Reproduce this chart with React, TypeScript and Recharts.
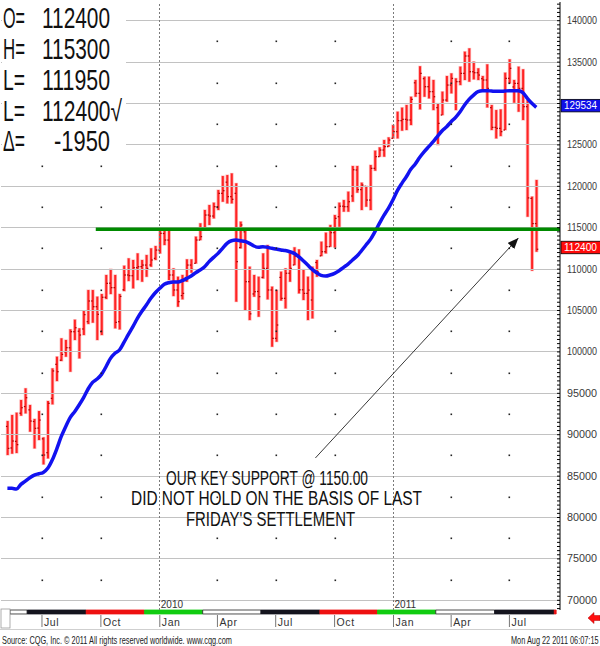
import React from 'react';
import {
  ComposedChart,
  Bar,
  Line,
  XAxis,
  YAxis,
  ReferenceLine,
  ReferenceDot,
  ReferenceArea,
} from 'recharts';

const DAY = 86400000;
const WEEK = 7 * DAY;
const firstWeek = Date.UTC(2009, 4, 8);
const xDomain = [Date.UTC(2009, 3, 28), Date.UTC(2011, 8, 18)];
const yDomain = [68830, 142260];

const highs = [
  91650, 92380, 92660, 94190, 95600, 93590, 91900, 92860, 89680, 94070,
  98010, 99420, 101640, 101440, 102720, 103890, 102850, 104940, 107470, 107470,
  106670, 106990, 109290, 110010, 109290, 106990, 110410, 111300, 111100, 111900,
  111100, 111700, 112510, 112790, 114720, 114920, 114720, 110090, 109080, 109290,
  111180, 111180, 113920, 115530, 117140, 117740, 118020, 119550, 121240, 121360,
  121560, 120360, 115730, 114920, 110290, 109290, 109080, 111900, 112910, 107880,
  107480, 109690, 110090, 111900, 112630, 112380, 109970, 109080, 110290, 111100,
  113310, 114400, 115330, 116530, 118020, 118340, 119350, 122450, 122450, 120440,
  120030, 122570, 124300, 124700, 125590, 125910, 127400, 129010, 129500, 129820,
  130820, 132840, 134500, 133240, 133240, 132840, 130020, 131430, 133320, 133640,
  133040, 134450, 136260, 136660, 135050, 134250, 133320, 134730, 129820, 129210,
  129290, 133720, 135330, 132840, 134450, 134130, 130420, 118750, 120760,
];
const lows = [
  87550, 87710, 87790, 92300, 92580, 90370, 88350, 89360, 86420, 87140,
  93670, 96480, 98900, 99420, 97610, 101440, 99220, 102040, 103370, 103530,
  101440, 102040, 106390, 106990, 102850, 102720, 107350, 108560, 107680, 108680,
  108480, 109080, 110290, 111100, 111900, 112910, 108680, 106750, 105460, 106350,
  108480, 109570, 110690, 113510, 114920, 115330, 116130, 117140, 118140, 117940,
  117940, 106070, 112510, 105060, 103850, 106670, 104250, 108880, 106350, 100630,
  101230, 106200, 105260, 108480, 110490, 107070, 106270, 103850, 104050, 109080,
  111580, 111900, 112710, 112630, 115120, 116940, 116940, 118140, 119230, 117140,
  117540, 117140, 121890, 123580, 123580, 124790, 125790, 125790, 126720, 126800,
  127400, 130820, 129300, 130820, 130620, 129210, 124990, 128610, 130220, 131230,
  129210, 132230, 132840, 132640, 132920, 132840, 131630, 129530, 126800, 125790,
  126070, 126800, 132440, 130100, 129010, 128010, 116330, 109810, 112100,
];
const opens = [
  91000, 88400, 89200, 92600, 93400, 93000, 91600, 90800, 89500, 87830,
  94390, 98500, 99000, 100000, 100500, 102440, 102500, 102770, 103650, 106150,
  105460, 102440, 106600, 108300, 107760, 103650, 107500, 109290, 109200, 110170,
  110300, 110490, 110500, 111300, 112300, 114300, 113510, 109290, 107480, 106800,
  108600, 110490, 110700, 113510, 115000, 116530, 116410, 117540, 119150, 120500,
  118750, 119150, 112600, 114500, 108480, 107000, 107300, 109000, 110090, 107480,
  101640, 109000, 106470, 109500, 110500, 111700, 107500, 107070, 106270, 110800,
  111600, 112100, 112710, 114400, 116330, 117600, 117540, 118830, 121970, 119600,
  120000, 118340, 122170, 123580, 124380, 124790, 125800, 126600, 127930, 128090,
  128010, 132500, 131230, 133000, 132030, 131430, 129500, 128610, 130420, 132230,
  130000, 132640, 133640, 135740, 133840, 133720, 133000, 132840, 129500, 127120,
  127000, 126800, 133040, 132000, 132430, 131830, 129620, 118540, 115500,
];
const closes = [
  88350, 89240, 88800, 93260, 94470, 91650, 90770, 91770, 87550, 93790,
  97700, 97610, 99700, 100510, 102440, 102920, 102040, 104500, 106150, 105460,
  104540, 106600, 108280, 107760, 103570, 106700, 109290, 109210, 110170, 110290,
  110490, 110090, 111100, 112300, 114320, 113510, 109290, 107480, 106070, 107070,
  110490, 109970, 113510, 113920, 116530, 116410, 117540, 119150, 119470, 118750,
  118430, 110900, 115330, 108480, 104600, 107270, 106670, 110090, 107480, 101640,
  103250, 106470, 109500, 110090, 111580, 107500, 107070, 107470, 109900, 109690,
  112100, 112710, 114400, 116130, 117600, 117540, 118140, 122000, 119600, 120150,
  118340, 122170, 123580, 124380, 124790, 125590, 126600, 127930, 128090, 128010,
  130500, 131230, 133640, 132030, 131430, 130820, 127600, 130420, 132230, 133040,
  132640, 133640, 135740, 133840, 133720, 133440, 132840, 131830, 127120, 127000,
  126600, 133040, 134250, 132430, 131830, 129620, 118600, 115500, 112400,
];
const movingAvg = [
  83520, 83520, 83440, 84000, 84400, 84810, 85130, 85290, 85450, 85940,
  86940, 88270, 89760, 90970, 92060, 92780, 93590, 94470, 95520, 96320,
  96720, 97290, 98210, 99220, 99830, 100230, 101150, 102120, 103050, 104050,
  104900, 105660, 106470, 107150, 107680, 108160, 108360, 108440, 108440, 108600,
  108880, 109170, 109570, 109890, 110290, 110900, 111420, 111900, 112510, 113110,
  113430, 113510, 113430, 113350, 113110, 112790, 112630, 112710, 112630, 112510,
  112430, 112310, 112240, 112100, 111900, 111500, 111020, 110490, 109970, 109570,
  109250, 109170, 109290, 109490, 109810, 110210, 110610, 111100, 111580, 112220,
  112910, 113590, 114520, 115520, 116490, 117340, 118340, 119470, 120360, 121160,
  122050, 122700, 123500, 124180, 124790, 125390, 126070, 126720, 127200, 127800,
  128330, 129010, 129820, 130500, 131020, 131430, 131550, 131550, 131510, 131470,
  131470, 131510, 131550, 131550, 131550, 131310, 130620, 130020, 129534,
];

const quarterDates = [
  Date.UTC(2009, 6, 1), Date.UTC(2009, 9, 1), Date.UTC(2010, 0, 1),
  Date.UTC(2010, 3, 1), Date.UTC(2010, 6, 1), Date.UTC(2010, 9, 1),
  Date.UTC(2011, 0, 1), Date.UTC(2011, 3, 1), Date.UTC(2011, 6, 1),
];
const quarterLabels = ['Jul', 'Oct', 'Jan', 'Apr', 'Jul', 'Oct', 'Jan', 'Apr', 'Jul'];
const dotQuarterDates = [
  Date.UTC(2009, 6, 1), Date.UTC(2009, 9, 1), Date.UTC(2010, 3, 1),
  Date.UTC(2010, 6, 1), Date.UTC(2010, 9, 1), Date.UTC(2011, 3, 1), Date.UTC(2011, 6, 1),
];
const yearDates = [Date.UTC(2010, 0, 1), Date.UTC(2011, 0, 1)];
const yearLabels = ['2010', '2011'];
const gridLevels = [70000, 75000, 80000, 85000, 90000, 95000, 100000, 105000, 110000, 115000, 120000, 125000, 130000, 135000, 140000];
const dotLevels = [72500, 77500, 82500, 87500, 92500, 97500, 102500, 107500, 112500, 117500, 122500, 127500, 132500, 137500];

const bandEdges = [
  Date.UTC(2009, 4, 12), Date.UTC(2009, 5, 8), Date.UTC(2009, 8, 8), Date.UTC(2009, 11, 8),
  Date.UTC(2010, 2, 9), Date.UTC(2010, 5, 8), Date.UTC(2010, 8, 8), Date.UTC(2010, 11, 7),
  Date.UTC(2011, 2, 8), Date.UTC(2011, 5, 8), Date.UTC(2011, 8, 9), Date.UTC(2011, 8, 12),
];
const bandColors = ['#ffffff', '#14141e', '#ee1111', '#11cc11', '#ffffff', '#14141e', '#ee1111', '#11cc11', '#ffffff', '#14141e', '#ee1111'];
const bandValues = [68350, 68830];

const supportLevel = 114800;
const supportStart = Date.UTC(2009, 8, 23);
const lastClose = 112400;
const lastMA = 129534;
const arrowFrom = { x: Date.UTC(2010, 8, 1), y: 87190 };
const arrowTo = { x: Date.UTC(2011, 6, 15), y: 113760 };

const rightTicks: number[] = [];
for (let v = 69000; v <= 142000; v += 500) rightTicks.push(v);
const leftTicks: number[] = [];
for (let v = 70000; v <= 141250; v += 1250) leftTicks.push(v);

const data = highs.map((h, i) => ({
  t: firstWeek + i * WEEK,
  range: [lows[i], h],
  high: h,
  low: lows[i],
  open: opens[i],
  close: closes[i],
  ma: movingAvg[i],
}));

const OhlcShape = (props: any) => {
  const { x, y, width, height, payload } = props;
  if (x == null || !payload) return null;
  const top = Math.min(y, y + height);
  const h = Math.abs(height);
  const cx = x + width / 2;
  const span = payload.high - payload.low || 1;
  const yOpen = top + ((payload.high - payload.open) / span) * h;
  const yClose = top + ((payload.high - payload.close) / span) * h;
  return (
    <g>
      <rect x={cx - 1.8} y={top - 0.5} width={3.6} height={h + 1} fill="#ffb0b0" />
      <rect x={cx - 1} y={top} width={2} height={h} fill="#ff2424" />
      <rect x={cx - 1.7} y={yOpen - 0.6} width={1.5} height={1.2} fill="#a80000" />
      <rect x={cx + 0.2} y={yClose - 0.6} width={1.5} height={1.2} fill="#a80000" />
    </g>
  );
};

const RightTick = (p: any) => {
  const { x, y, payload } = p;
  const v = payload.value;
  const major = v % 5000 === 0 && v >= 70000 && v <= 140000;
  const hidden = Math.abs(v - lastMA) < 1200 || Math.abs(v - lastClose) < 1200;
  return (
    <g>
      <line x1={x - 3} x2={x} y1={y} y2={y} stroke="#000" strokeWidth={1} />
      {major && !hidden && (
        <text x={x + 7} y={y + 3.5} fontSize={10} fill="#3a3a3a" fontFamily="Liberation Sans, Arial, sans-serif" textLength={30} lengthAdjust="spacingAndGlyphs">
          {v}
        </text>
      )}
    </g>
  );
};

const LeftTick = (p: any) => {
  const { x, y } = p;
  return <line x1={x} x2={x + 3} y1={y} y2={y} stroke="#000" strokeWidth={1} />;
};

const QuarterTick = (p: any) => {
  const { x, y, payload } = p;
  const idx = quarterDates.indexOf(payload.value);
  return (
    <g>
      <line x1={x} x2={x} y1={y + 5} y2={y + 17} stroke="#777" strokeWidth={1} />
      <text x={x + 2} y={y + 15.5} fontSize={10.5} fill="#333" fontFamily="Liberation Sans, Arial, sans-serif" letterSpacing={0.6}>
        {quarterLabels[idx]}
      </text>
    </g>
  );
};

const YearLabel = (p: any) => {
  const vb = p.viewBox || {};
  return (
    <text x={vb.x + 1} y={vb.y + vb.height - 2} fontSize={10} fill="#333" fontFamily="Liberation Sans, Arial, sans-serif">
      {p.text}
    </text>
  );
};

const PriceTag = (props: any) => {
  const { cx, cy, fill, text } = props;
  if (cx == null) return null;
  return (
    <g>
      <rect x={cx + 1} y={cy - 8} width={40} height={12.5} fill={fill} stroke="#000" strokeWidth={0.8} />
      <text x={cx + 4} y={cy + 2} fontSize={10} fill="#fff" fontFamily="Liberation Sans, Arial, sans-serif" textLength={33} lengthAdjust="spacingAndGlyphs">
        {text}
      </text>
    </g>
  );
};

const GridDot = (p: any) => {
  const { cx, cy } = p;
  if (cx == null) return null;
  return <rect x={Math.round(cx) - 0.5} y={Math.round(cy) - 0.5} width={1.6} height={1.6} fill="#222" />;
};

const headerRows = [
  { label: 'O=', value: '112400', baseline: 28 },
  { label: 'H=', value: '115300', baseline: 58.5 },
  { label: 'L=', value: '111950', baseline: 89.5 },
  { label: 'L=', value: '112400√', baseline: 120.5 },
  { label: 'Δ=', value: '-1950', baseline: 151 },
];
const noteLines = [
  'OUR KEY SUPPORT @ 1150.00',
  'DID NOT HOLD ON THE BASIS OF LAST',
  "FRIDAY'S SETTLEMENT",
];

export default function App() {
  const narrow = "'Liberation Sans Narrow', 'Liberation Sans', Arial, sans-serif";
  const gridColor = '#7a7a7a';
  return (
    <div style={{ position: 'absolute', left: 0, top: 0, width: 600, height: 646, background: '#fff', overflow: 'hidden' }}>
      <ComposedChart width={600} height={646} data={data} margin={{ top: 2, right: 0, bottom: 0, left: 1 }}>
        <XAxis
          dataKey="t"
          type="number"
          scale="linear"
          domain={xDomain}
          allowDataOverflow
          ticks={quarterDates}
          interval={0}
          tick={<QuarterTick />}
          height={36}
          axisLine={false}
          tickLine={false}
          tickSize={0}
          tickMargin={0}
        />
        <XAxis
          xAxisId="top"
          orientation="top"
          dataKey="t"
          type="number"
          domain={xDomain}
          allowDataOverflow
          height={0}
          tick={false}
          tickLine={false}
          axisLine={{ stroke: '#000' }}
        />
        <YAxis
          orientation="right"
          type="number"
          domain={yDomain}
          allowDataOverflow
          ticks={rightTicks}
          interval={0}
          tick={<RightTick />}
          tickLine={false}
          tickSize={0}
          tickMargin={0}
          width={40}
          axisLine={{ stroke: '#000' }}
        />
        <YAxis
          yAxisId="left"
          orientation="left"
          type="number"
          domain={yDomain}
          allowDataOverflow
          ticks={leftTicks}
          interval={0}
          tick={<LeftTick />}
          tickLine={false}
          tickSize={0}
          tickMargin={0}
          width={0}
          axisLine={{ stroke: '#000' }}
        />

        {bandColors.map((c, i) => (
          <ReferenceArea
            key={'band' + i}
            x1={bandEdges[i]}
            x2={bandEdges[i + 1]}
            y1={bandValues[0]}
            y2={bandValues[1]}
            fill={c}
            fillOpacity={1}
            stroke={c === '#ffffff' ? '#222' : c}
            strokeWidth={0.8}
            ifOverflow="visible"
          />
        ))}

        {gridLevels.map((v) => (
          <ReferenceLine
            key={'g' + v}
            y={v}
            stroke="#c2c2c2"
            strokeWidth={1}
            shapeRendering="crispEdges"
          />
        ))}

        {yearDates.map((d, i) => (
          <ReferenceLine
            key={'yr' + d}
            x={d}
            stroke={gridColor}
            strokeDasharray="2 2"
            strokeWidth={1}
            shapeRendering="crispEdges"
            label={<YearLabel text={yearLabels[i]} />}
          />
        ))}

        {dotQuarterDates.map((d) =>
          dotLevels.map((v) => (
            <ReferenceDot key={'d' + d + '_' + v} x={d} y={v} r={1} shape={<GridDot />} />
          ))
        )}

        <Bar dataKey="range" barSize={3} shape={<OhlcShape />} isAnimationActive={false} />

        <Line
          dataKey="ma"
          type="monotone"
          stroke="#1212f0"
          strokeWidth={3.5}
          dot={false}
          activeDot={false}
          isAnimationActive={false}
        />

        <ReferenceLine
          segment={[
            { x: supportStart, y: supportLevel },
            { x: xDomain[1], y: supportLevel },
          ]}
          stroke="#008a00"
          strokeWidth={3.5}
          ifOverflow="visible"
        />

        <ReferenceLine
          segment={[arrowFrom, arrowTo]}
          stroke="#222"
          strokeWidth={0.9}
          markerEnd="url(#arrowHead)"
          ifOverflow="visible"
        />

        <ReferenceDot
          x={xDomain[1]}
          y={lastMA}
          r={1}
          ifOverflow="visible"
          shape={(p: any) => <PriceTag {...p} fill="#1010e8" text={String(lastMA)} />}
        />
        <ReferenceDot
          x={xDomain[1]}
          y={lastClose}
          r={1}
          ifOverflow="visible"
          shape={(p: any) => <PriceTag {...p} fill="#ff0a0a" text={String(lastClose)} />}
        />
      </ComposedChart>

      <svg width={600} height={646} style={{ position: 'absolute', left: 0, top: 0, pointerEvents: 'none' }}>
        <defs>
          <marker id="arrowHead" markerUnits="userSpaceOnUse" markerWidth={12} markerHeight={9} refX={11} refY={4.5} orient="auto">
            <path d="M0,0 L11,4.5 L0,9 z" fill="#111" />
          </marker>
        </defs>

        <rect x={2} y={3} width={124} height={153} fill="#fff" />
        {headerRows.map((r, i) => {
          const hasCheck = r.value.endsWith('√');
          const width = hasCheck ? 80 : r.value.length === 6 ? 68 : 56;
          return (
            <g key={'h' + i} fontFamily={narrow} fontSize={29} fill="#111">
              <text x={3} y={r.baseline} textLength={22} lengthAdjust="spacingAndGlyphs">{r.label}</text>
              {hasCheck ? (
                <text x={42} y={r.baseline} textLength={width} lengthAdjust="spacingAndGlyphs">{r.value}</text>
              ) : (
                <text x={110} y={r.baseline} textAnchor="end" textLength={width} lengthAdjust="spacingAndGlyphs">{r.value}</text>
              )}
            </g>
          );
        })}

        <g fontFamily={narrow} fontSize={20} fill="#111">
          <text x={166} y={485} textLength={202} lengthAdjust="spacingAndGlyphs">{noteLines[0]}</text>
          <text x={131} y={505} textLength={291} lengthAdjust="spacingAndGlyphs">{noteLines[1]}</text>
          <text x={186} y={525.5} textLength={169} lengthAdjust="spacingAndGlyphs">{noteLines[2]}</text>
        </g>

        <rect x={1} y={609} width={9} height={19} fill="#fff" stroke="#999" strokeWidth={0.8} />
        <line x1={0} x2={600} y1={629.5} y2={629.5} stroke="#cfcfcf" strokeWidth={1} />
        <text x={2} y={644} fontFamily={narrow} fontSize={10.5} fill="#222" textLength={230} lengthAdjust="spacingAndGlyphs">
          Source: CQG, Inc. © 2011 All rights reserved worldwide. www.cqg.com
        </text>
        <text transform="translate(511,644) scale(0.7,1)" x={0} y={0} fontFamily={narrow} fontSize={10.5} fill="#222">
          Mon Aug 22 2011 06:07:15
        </text>
        <path d="M588,618 L594,612.5 L594,615.5 L600,615.5 L600,620.5 L594,620.5 L594,623.5 Z" fill="#ff1010" stroke="#b00000" strokeWidth={0.5} />
      </svg>
    </div>
  );
}
